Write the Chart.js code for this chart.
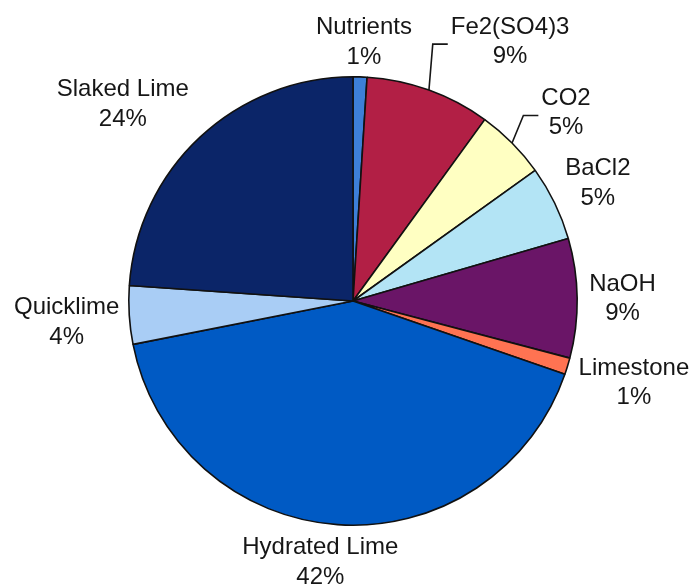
<!DOCTYPE html>
<html>
<head>
<meta charset="utf-8">
<script src="https://cdn.jsdelivr.net/npm/chart.js@4/dist/chart.umd.min.js"></script>
<style>
  html, body { margin: 0; padding: 0; background: #ffffff; }
  #wrap { width: 690px; height: 588px; }
</style>
</head>
<body>
<div id="wrap"><canvas id="c" width="690" height="588"></canvas></div>
<script>
// ---- data ----
const categories = ['Nutrients', 'Fe2(SO4)3', 'CO2', 'BaCl2', 'NaOH', 'Limestone', 'Hydrated Lime', 'Quicklime', 'Slaked Lime'];
const shares = [1.0, 9.0, 5.1, 5.4, 8.6, 1.2, 41.6, 4.2, 23.9];

// ---- styling ----
const sliceColors = ['#3d7fd8', '#b21f45', '#ffffc2', '#b3e4f5', '#6a1567', '#ff7352', '#005ac4', '#a9cdf5', '#0b2568'];
// manual label nudges (px) relative to the automatic outside-end position
const labelNudge = [[2, -1], [57, -17], [28, -7], [3, -6], [0, -1], [2, 4], [-11, 0], [2, 3], [-24, -9]];
const hasLeader = [false, true, true, false, false, false, false, false, false];

const FONT = '24px "Liberation Sans", Arial, sans-serif';
const LINE = 29.5, CAP = 17.5, GAP = 12;

const outsideLabels = {
  id: 'outsideLabels',
  afterDatasetsDraw(chart) {
    const ctx = chart.ctx;
    const meta = chart.getDatasetMeta(0);
    const data = chart.data.datasets[0].data;
    const total = data.reduce((a, b) => a + b, 0);
    ctx.save();
    ctx.font = FONT;
    ctx.fillStyle = '#161616';
    ctx.textAlign = 'center';
    ctx.textBaseline = 'alphabetic';
    meta.data.forEach((arc, i) => {
      const p = arc.getProps(['x', 'y', 'startAngle', 'endAngle', 'outerRadius'], true);
      const mid = (p.startAngle + p.endAngle) / 2;
      const dx = Math.cos(mid), dy = Math.sin(mid);
      const line1 = chart.data.labels[i];
      const line2 = Math.round(data[i] / total * 100) + '%';
      const w = Math.max(ctx.measureText(line1).width, ctx.measureText(line2).width);
      const h = CAP + LINE;
      const ax = p.x + (p.outerRadius + GAP) * dx;
      const ay = p.y + (p.outerRadius + GAP) * dy;
      const bx = ax + dx * w / 2 + labelNudge[i][0];
      const by = ay + dy * h / 2 + labelNudge[i][1];
      const top = by - h / 2;
      ctx.fillText(line1, bx, top + CAP);
      ctx.fillText(line2, bx, top + CAP + LINE);
      if (hasLeader[i]) {
        const w1 = ctx.measureText(line1).width;
        const ex = bx - w1 / 2 - 3, ey = top + 28;
        const sx = p.x + p.outerRadius * dx, sy = p.y + p.outerRadius * dy;
        ctx.beginPath();
        ctx.strokeStyle = '#161616';
        ctx.lineWidth = 1.6;
        ctx.moveTo(sx, sy);
        ctx.lineTo(ex - 15, ey);
        ctx.lineTo(ex, ey);
        ctx.stroke();
      }
    });
    ctx.restore();
  }
};

new Chart(document.getElementById('c'), {
  type: 'pie',
  data: {
    labels: categories,
    datasets: [{
      data: shares,
      backgroundColor: sliceColors,
      borderColor: '#111111',
      borderWidth: 1.6
    }]
  },
  options: {
    responsive: false,
    animation: false,
    events: [],
    layout: { padding: { left: 128, right: 112, top: 76, bottom: 62 } },
    plugins: {
      legend: { display: false },
      tooltip: { enabled: false }
    }
  },
  plugins: [outsideLabels]
});
</script>
</body>
</html>
